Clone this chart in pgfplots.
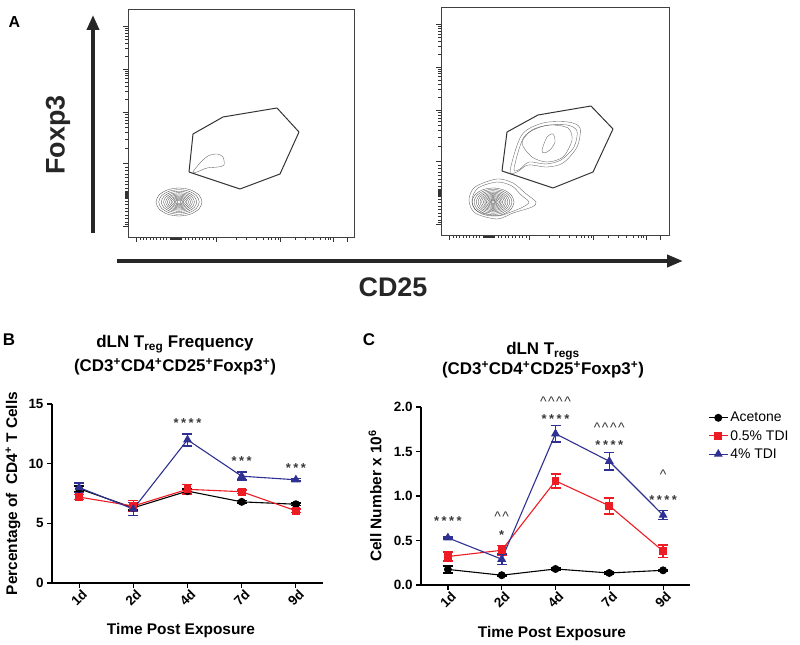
\documentclass[border=0pt]{standalone}
\usepackage{fontspec}
\setmainfont{Liberation Sans}
\usepackage{pgfplots}
\pgfplotsset{compat=1.18}
\usepackage{pgfplotstable}
\usetikzlibrary{arrows.meta}

\definecolor{tdired}{HTML}{ED1C24}
\definecolor{tdiblue}{HTML}{2E3192}

% unit ring used for the concentric contour levels
\pgfplotstableread{
x y
1 0
0.866 0.5
0.5 0.866
0 1
-0.5 0.866
-0.866 0.5
-1 0
-0.866 -0.5
-0.5 -0.866
0 -1
0.5 -0.866
0.866 -0.5
}\ringtab

\newcommand{\stars}[1]{\ifcase#1\or*\or*\kern2.5bp*\or*\kern2.5bp*\kern2.5bp*\or*\kern2.5bp*\kern2.5bp*\kern2.5bp*\fi}
\newcommand{\carets}[1]{\ifcase#1\or\textasciicircum\or\textasciicircum\kern1.5bp\textasciicircum\or\or\textasciicircum\kern1.5bp\textasciicircum\kern1.5bp\textasciicircum\kern1.5bp\textasciicircum\fi}

\pgfplotsset{
  facs/.style={scale only axis, anchor=south west, height=228bp, ymin=0, ymax=228, xmin=0,
    axis line style={line width=0.7pt, black!75}, tick align=outside, tick pos=left,
    xtick={8.7,88.7,152,205.3,219.3},
    minor xtick={12,15.3,18.6,22,25.3,28.6,32,35.3,38.6,42,43.5,44.5,45.5,46.5,47.5,48.5,49.5,50.5,51.5,52.5,53.5,57,60.5,64,67.5,71,74.5,78,81.5,85,108.7,118.7,128.7,135.3,140.3,143.7,147,150.3,167,177,185.3,192,197,200.3,202.7},
    ytick={10.6,73.3,124.6,168,210.6},
    minor ytick={13,15,18.5,22,25.5,29,32.5,36,39,40,41,42,43,44,45,46,49,52.5,56,59.5,63,66.5,70,88.7,97.8,104.2,109.2,113.2,116.7,119.6,122.2,137.7,145.3,150.7,154.9,158.4,161.3,163.8,166.1,180.8,188.3,193.6,197.8,201.1,204,206.5,208.6},
    xticklabels={}, yticklabels={}, major tick length=5bp, minor tick length=3bp,
    tick style={line width=0.7pt, black!80}},
  cont/.style={smooth cycle, line width=0.35pt, color=black!62},
  gate/.style={line width=1pt, color=black!80, line join=round},
  gp/.style={scale only axis, anchor=south west, clip=false,
    xmin=-0.5, xmax=4.5, xtick={0,1,2,3,4}, xticklabels={1d,2d,4d,7d,9d},
    axis x line*=bottom, axis y line*=left, axis line style={line width=1.2pt, -},
    tick align=outside, major tick length=5bp, tick style={line width=1.2pt, black},
    /pgf/number format/assume math mode=true,
    tick label style={font=\fontsize{13.5}{15}\selectfont\bfseries},
    xticklabel style={rotate=45, anchor=center, xshift=-7.1bp, yshift=-7.1bp},
    label style={font=\fontsize{15.5}{17}\selectfont\bfseries},
    ylabel style={anchor=center}, xlabel style={anchor=center},
    legend style={draw=none, fill=none, font=\fontsize{14}{16}\selectfont, row sep=3bp},
    legend cell align=left,
    legend image code/.code={\draw[mark repeat=2,mark phase=2,#1] plot coordinates {(0bp,0bp) (9.5bp,0bp) (19bp,0bp)};}},
  sacet/.style={black, line width=1.1pt, mark=*, mark size=3.4bp, mark options={solid}},
  sred/.style={tdired, line width=1.1pt, mark=square*, mark size=3.3bp, mark options={solid}},
  sblue/.style={tdiblue, line width=1.1pt, mark=triangle*, mark size=4.1bp, mark options={solid}},
  errs/.style={/pgfplots/error bars/y dir=both, /pgfplots/error bars/y explicit,
    /pgfplots/error bars/error bar style={line width=1.6pt},
    /pgfplots/error bars/error mark options={rotate=90, mark size=5bp, line width=1.6pt}},
}
\tikzset{
  sig/.style={font=\fontsize{13}{13}\selectfont\bfseries, text=black!78, anchor=base, yshift=-7.5bp, inner sep=0pt},
  car/.style={font=\fontsize{14}{14}\selectfont, text=black!78, anchor=base, yshift=-7.3bp, inner sep=0pt},
}

\begin{document}
\begin{tikzpicture}
\path[use as bounding box] (0,0) rectangle (800bp,645bp);

% ---------- panel A ----------
\node[font=\fontsize{16}{16}\selectfont\bfseries] at (14.5bp,622.5bp) {A};
\draw[line width=3.6bp, black!85, -{Triangle[length=15bp,width=12bp]}] (93bp,412bp) -- (93bp,630bp);
\draw[line width=3.8bp, black!85, -{Triangle[length=16bp,width=12bp]}] (117bp,384bp) -- (683bp,384bp);
\node[rotate=90, font=\fontsize{27}{27}\selectfont\bfseries, text=black!85] at (58bp,510bp) {Foxp3};
\node[anchor=base, font=\fontsize{27}{27}\selectfont\bfseries, text=black!85] at (393bp,348bp) {CD25};

\begin{axis}[facs, at={(128bp,408bp)}, width=226bp, xmax=226]
\addplot[gate] coordinates {(61,65) (65,103) (95,120) (149,129) (171,105) (152,63) (112,48) (61,65)};
\addplot[cont] coordinates {(65,65) (72,74) (80,81) (89,83) (95,80) (96,72) (90,70) (79,69) (69,65)};
\pgfplotsinvokeforeach{1,0.88,0.77,0.67,0.58,0.5,0.42,0.35,0.28,0.21,0.15,0.09}{
  \addplot[cont, line width=0.3pt, color=black!75] table[x expr={51+23*#1*\thisrow{x}}, y expr={35+14*#1*\thisrow{y}}] {\ringtab};
}
\end{axis}

\begin{axis}[facs, at={(441bp,410bp)}, width=228bp, xmax=228]
\addplot[gate] coordinates {(61,64) (66,103) (97,120) (150,129) (172,106) (152,63) (112,47) (61,64)};
\addplot[cont] coordinates {(69,64) (80.7,100) (102,112) (127,113) (139,107) (136,88) (122,72) (106,68) (87,70) (76,63)};
\addplot[cont] coordinates {(73,66) (83,98) (103,109) (126,110) (136,104) (133,88) (120,75) (105,71) (88,73) (79,66)};
\addplot[cont] coordinates {(81,92) (91,105) (109,110) (127,107) (131,95) (122,78) (106,73) (91,78)};
\addplot[cont] coordinates {(101,85) (106,98) (112,101) (114,93) (109,85) (103,82)};
\addplot[cont] coordinates {(28,35) (34,48) (56,56) (72,52) (84,42) (95,33) (91,28) (72,22) (56,16) (34,22)};
\addplot[cont] coordinates {(31,35) (37,47) (56,53) (71,49) (80,40) (88,33) (82,28) (70,23) (56,19) (36,24)};
\pgfplotsinvokeforeach{1,0.9,0.8,0.71,0.62,0.54,0.46,0.39,0.32,0.25,0.19,0.13,0.08}{
  \addplot[cont, line width=0.3pt, color=black!75] table[x expr={52+21*#1*\thisrow{x}}, y expr={33+14*#1*\thisrow{y}}] {\ringtab};
}
\end{axis}

% ---------- panel B ----------
\node[font=\fontsize{17}{17}\selectfont\bfseries] at (9bp,305bp) {B};
\node[anchor=base, font=\fontsize{17}{17}\selectfont\bfseries] at (175bp,297bp) {dLN T\textsubscript{reg} Frequency};
\node[anchor=base, font=\fontsize{17}{17}\selectfont\bfseries] at (175bp,273bp) {(CD3\textsuperscript{+}CD4\textsuperscript{+}CD25\textsuperscript{+}Foxp3\textsuperscript{+})};

\begin{axis}[gp, at={(52bp,62bp)}, width=271bp, height=179bp,
  ymin=0, ymax=15, ytick={0,5,10,15},
  xlabel={Time Post Exposure}, ylabel={Percentage of\ \ CD4\textsuperscript{+} T Cells},
  xlabel style={at={(axis description cs:0.476,-0.263)}},
  ylabel style={at={(axis description cs:-0.144,0.5)}}]
\addplot[sacet, errs] coordinates {(0,7.9) +- (0,0.25) (1,6.3) +- (0,0.2) (2,7.7) +- (0,0.2) (3,6.8) +- (0,0.1) (4,6.6) +- (0,0.1)};
\addplot[sred, errs] coordinates {(0,7.2) +- (0,0.2) (1,6.45) +- (0,0.45) (2,7.85) +- (0,0.4) (3,7.65) +- (0,0.15) (4,6.05) +- (0,0.15)};
\addplot[sblue, errs] coordinates {(0,8.0) +- (0,0.4) (1,6.2) +- (0,0.55) (2,12.0) +- (0,0.5) (3,8.95) +- (0,0.33) (4,8.65) +- (0,0.12)};
\node[sig] at (axis cs:2,13.7) {\stars{4}};
\node[sig] at (axis cs:3,10.5) {\stars{3}};
\node[sig] at (axis cs:4,9.9) {\stars{3}};
\end{axis}

% ---------- panel C ----------
\node[font=\fontsize{17}{17}\selectfont\bfseries] at (369bp,305bp) {C};
\node[anchor=base, font=\fontsize{17}{17}\selectfont\bfseries] at (543bp,290bp) {dLN T\textsubscript{regs}};
\node[anchor=base, font=\fontsize{17}{17}\selectfont\bfseries] at (543bp,270bp) {(CD3\textsuperscript{+}CD4\textsuperscript{+}CD25\textsuperscript{+}Foxp3\textsuperscript{+})};

\begin{axis}[gp, at={(421bp,60bp)}, width=269bp, height=178bp,
  ymin=0, ymax=2, ytick={0,0.5,1,1.5,2},
  yticklabel style={/pgf/number format/.cd, fixed, fixed zerofill, precision=1},
  xlabel={Time Post Exposure}, ylabel={Cell Number x 10\textsuperscript{6}},
  xlabel style={at={(axis description cs:0.487,-0.275)}},
  ylabel style={at={(axis description cs:-0.171,0.5)}},
  legend style={at={(1.056,0.994)}, anchor=north west}]
\addplot[sacet, errs] coordinates {(0,0.175) +- (0,0.04) (1,0.11) +- (0,0.01) (2,0.18) +- (0,0.01) (3,0.135) +- (0,0.01) (4,0.165) +- (0,0.01)};
\addplot[sred, errs] coordinates {(0,0.32) +- (0,0.05) (1,0.39) +- (0,0.055) (2,1.17) +- (0,0.08) (3,0.89) +- (0,0.09) (4,0.38) +- (0,0.07)};
\addplot[sblue, errs] coordinates {(0,0.53) +- (0,0.01) (1,0.29) +- (0,0.06) (2,1.70) +- (0,0.09) (3,1.39) +- (0,0.10) (4,0.785) +- (0,0.05)};
\legend{Acetone,0.5\% TDI,4\% TDI}
\node[sig] at (axis cs:0,0.755) {\stars{4}};
\node[car] at (axis cs:1,0.80) {\carets{2}};
\node[sig] at (axis cs:1,0.60) {\stars{1}};
\node[car] at (axis cs:2,2.09) {\carets{4}};
\node[sig] at (axis cs:2,1.90) {\stars{4}};
\node[car] at (axis cs:3,1.79) {\carets{4}};
\node[sig] at (axis cs:3,1.61) {\stars{4}};
\node[car] at (axis cs:4,1.27) {\carets{1}};
\node[sig] at (axis cs:4,0.99) {\stars{4}};
\end{axis}
\end{tikzpicture}
\end{document}
